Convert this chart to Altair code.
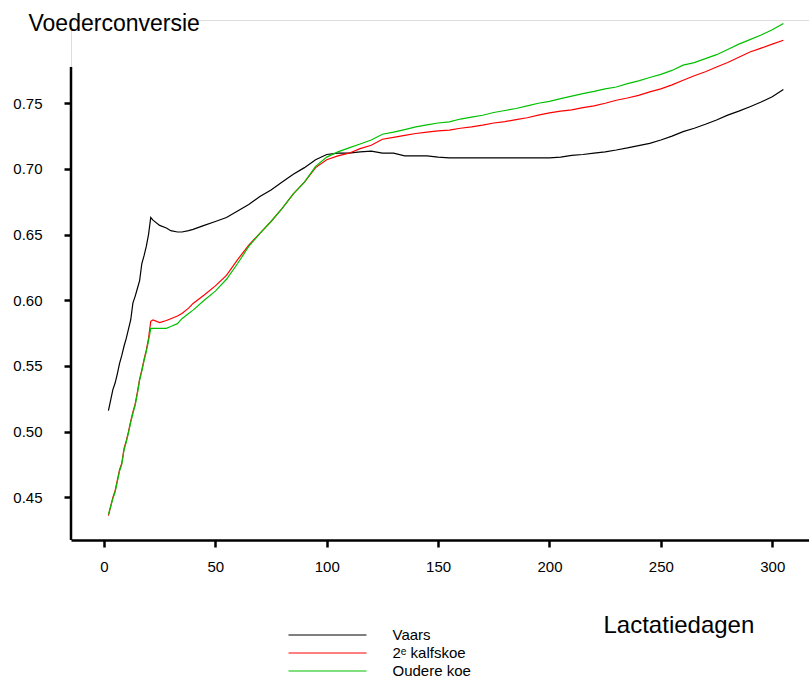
import altair as alt
import pandas as pd

days = [2, 3, 4, 5, 6, 7, 8, 9, 10, 11, 12, 13, 14, 15, 16, 17, 18, 19, 20, 21, 22,
        25, 28, 30, 33, 35, 38, 40, 45, 50, 55, 60, 65, 70, 75, 80, 85, 90, 95, 100,
        105, 110, 115, 120, 125, 130, 135, 140, 145, 150, 155, 160, 165, 170, 175, 180,
        185, 190, 195, 200, 205, 210, 215, 220, 225, 230, 235, 240, 245, 250, 255, 260,
        265, 270, 275, 280, 285, 290, 295, 300, 305]

vaars = [0.516, 0.524, 0.532, 0.537, 0.544, 0.552, 0.558, 0.565, 0.571, 0.578, 0.585,
         0.598, 0.603, 0.609, 0.615, 0.628, 0.634, 0.641, 0.650, 0.663, 0.661,
         0.657, 0.655, 0.653, 0.652, 0.652, 0.653, 0.654, 0.657, 0.660, 0.663, 0.668,
         0.673, 0.679, 0.684, 0.690, 0.696, 0.701, 0.707, 0.711,
         0.712, 0.712, 0.713, 0.7135, 0.712, 0.712, 0.710, 0.710, 0.710, 0.709, 0.7084,
         0.7084, 0.7084, 0.7084, 0.7084, 0.7084, 0.7084, 0.7084, 0.7084, 0.7084,
         0.709, 0.7104, 0.711, 0.712, 0.713, 0.7144, 0.716, 0.7178, 0.7195, 0.722,
         0.725, 0.7284, 0.731, 0.734, 0.7373, 0.741, 0.744, 0.7474, 0.751, 0.755, 0.7605]

kalfskoe2 = [0.436, 0.443, 0.450, 0.455, 0.463, 0.471, 0.476, 0.487, 0.493, 0.500, 0.508,
             0.515, 0.521, 0.530, 0.540, 0.547, 0.555, 0.562, 0.571, 0.584, 0.585,
             0.583, 0.5846, 0.586, 0.588, 0.590, 0.594, 0.5976, 0.604, 0.611, 0.619, 0.631,
             0.642, 0.651, 0.660, 0.670, 0.681, 0.690, 0.701, 0.707,
             0.710, 0.712, 0.7155, 0.718, 0.7226, 0.724, 0.7255, 0.727, 0.728, 0.729, 0.7295,
             0.731, 0.732, 0.7333, 0.735, 0.736, 0.7376, 0.739, 0.741, 0.7427,
             0.744, 0.745, 0.7467, 0.748, 0.750, 0.7523, 0.754, 0.756, 0.7587, 0.761,
             0.764, 0.7675, 0.771, 0.774, 0.7776, 0.781, 0.785, 0.789, 0.792, 0.795, 0.798]

oudere = [0.437, 0.443, 0.449, 0.454, 0.462, 0.470, 0.475, 0.486, 0.492, 0.499, 0.507,
          0.514, 0.520, 0.529, 0.539, 0.546, 0.554, 0.561, 0.569, 0.5786, 0.5786,
          0.5786, 0.5786, 0.580, 0.5822, 0.586, 0.590, 0.5925, 0.600, 0.607, 0.616, 0.628,
          0.641, 0.651, 0.660, 0.670, 0.681, 0.690, 0.702, 0.709,
          0.713, 0.716, 0.719, 0.722, 0.7264, 0.728, 0.730, 0.732, 0.7335, 0.735, 0.7358,
          0.738, 0.7395, 0.7409, 0.743, 0.7445, 0.746, 0.748, 0.750, 0.7515,
          0.7535, 0.7555, 0.7574, 0.759, 0.761, 0.7624, 0.765, 0.767, 0.7696, 0.772,
          0.775, 0.779, 0.781, 0.784, 0.787, 0.791, 0.795, 0.7985, 0.802, 0.806, 0.8107]

series_names = ["Vaars", "2\u1d49 kalfskoe", "Oudere koe"]
series_colors = ["#000000", "#ff0000", "#00c000"]
x_ticks = [0, 50, 100, 150, 200, 250, 300]
y_ticks = [0.45, 0.50, 0.55, 0.60, 0.65, 0.70, 0.75]

rows = []
for name, vals in zip(series_names, [vaars, kalfskoe2, oudere]):
    for d, v in zip(days, vals):
        rows.append({"dag": d, "waarde": v, "groep": name})
df = pd.DataFrame(rows)

X_DOMAIN = [-14.8, 316.5]
Y_DOMAIN = [0.4175, 0.8134]
Y_AXIS_TOP = 0.7776
FONT = "Liberation Sans"

lines = alt.Chart(df).mark_line(interpolate="linear", strokeWidth=1.2).encode(
    x=alt.X("dag:Q", scale=alt.Scale(domain=X_DOMAIN, nice=False, zero=False),
            axis=alt.Axis(values=x_ticks, grid=False, domain=True, domainWidth=2.5,
                          domainColor="black", tickColor="black", tickWidth=2.5, tickSize=7,
                          labelFontSize=15, labelFont=FONT, labelColor="black", labelPadding=12,
                          title="Lactatiedagen", titleFont=FONT, titleFontSize=24,
                          titleFontWeight="normal", titleColor="black", titleAlign="left",
                          titleBaseline="alphabetic", titleX=532, titleY=92)),
    y=alt.Y("waarde:Q", scale=alt.Scale(domain=Y_DOMAIN, nice=False, zero=False),
            axis=alt.Axis(values=y_ticks, format=".2f", grid=False, domain=False,
                          tickColor="black", tickWidth=2.5, tickSize=7,
                          labelFontSize=15, labelFont=FONT, labelColor="black", labelPadding=22,
                          title="Voederconversie", titleFont=FONT, titleFontSize=23,
                          titleFontWeight="normal", titleColor="black", titleAngle=0,
                          titleAlign="left", titleBaseline="alphabetic", titleX=-43, titleY=10)),
    color=alt.Color("groep:N", sort=series_names,
                    scale=alt.Scale(domain=series_names, range=series_colors),
                    legend=alt.Legend(title=None, orient="none", legendX=248.5, legendY=607,
                                      symbolType="M-5.2,0H5.2", symbolSize=225,
                                      symbolStrokeWidth=1, symbolFillColor="transparent",
                                      labelFont=FONT, labelFontSize=15, labelColor="black",
                                      labelOffset=57, rowPadding=2, padding=0)),
    order=alt.Order("groep:N"),
)

yaxis_line = alt.Chart(pd.DataFrame({"a": [0]})).mark_rule(color="black", strokeWidth=2.5).encode(
    x=alt.datum(X_DOMAIN[0]),
    y=alt.datum(Y_DOMAIN[0]),
    y2=alt.datum(Y_AXIS_TOP),
)

chart = alt.layer(yaxis_line, lines).properties(
    width=738, height=520,
    autosize=alt.AutoSizeParams(type="none"),
    padding={"left": 71, "top": 20, "right": 0, "bottom": 140},
).configure_view(stroke=None).configure(background="white")

chart.save("out.html", embed_options={"renderer": "svg", "actions": False})
